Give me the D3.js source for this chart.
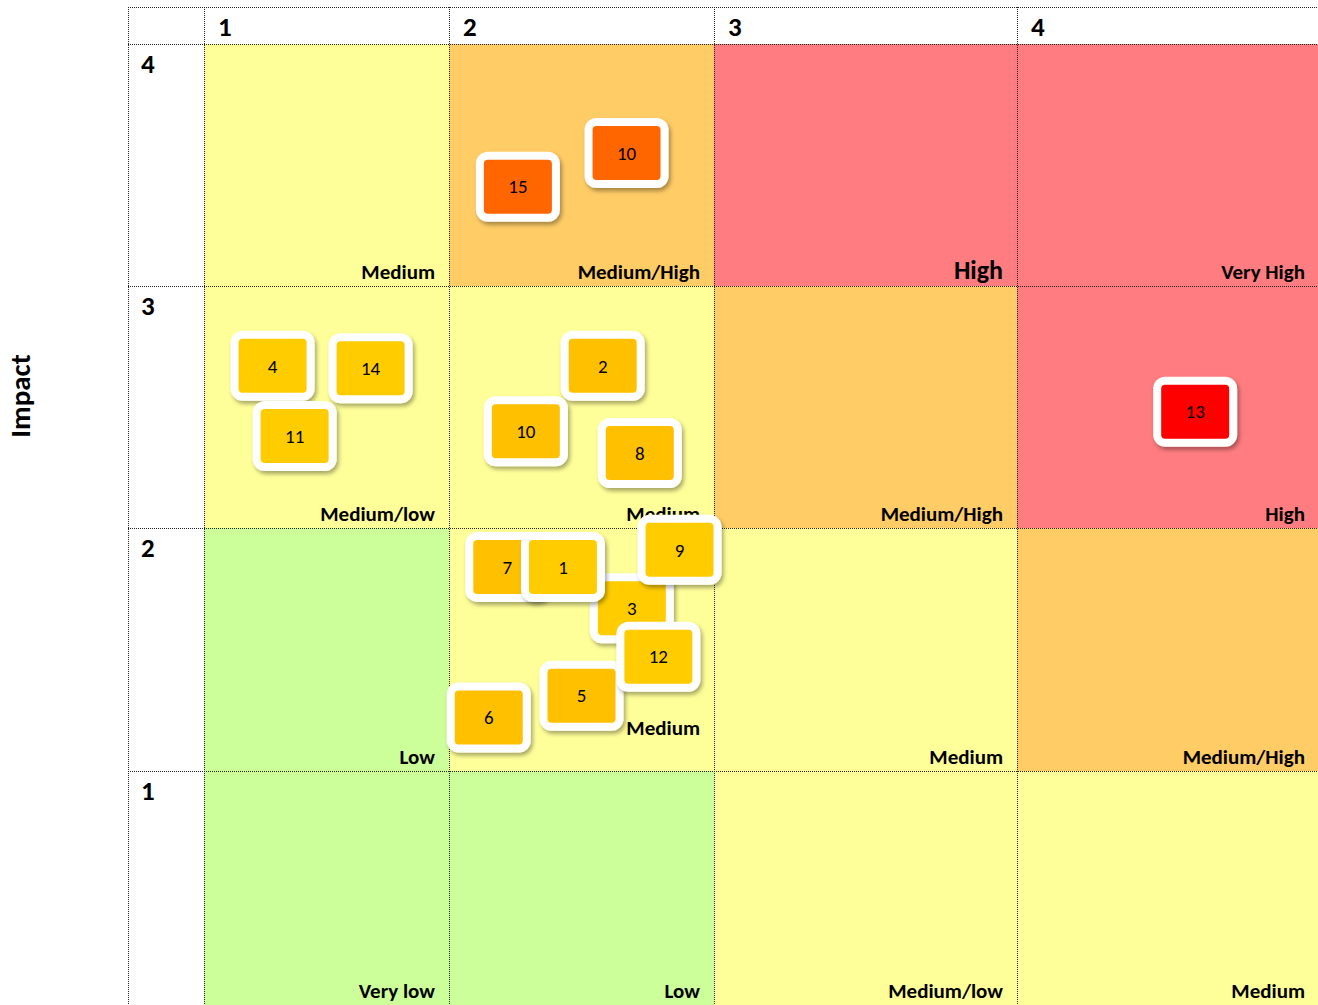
<!DOCTYPE html>
<html>
<head>
<meta charset="utf-8">
<script src="https://cdn.jsdelivr.net/npm/d3@7"></script>
<style>
    body { margin: 0; background: #fff; }
    svg { display: block; font-family: Carlito, Calibri, Lato, sans-serif; }
</style>
</head>
<body>
<div id="matrix"></div>
<script>
// likelihood across the top, impact down the side
const likelihoodLevels = [1, 2, 3, 4];
const impactLevels = [4, 3, 2, 1];

// rating shown in each cell, one array per impact row (top to bottom)
const ratingsImpact4 = ["Medium", "Medium/High", "High", "Very High"];
const ratingsImpact3 = ["Medium/low", "Medium", "Medium/High", "High"];
const ratingsImpact2 = ["Low", "Medium", "Medium", "Medium/High"];
const ratingsImpact1 = ["Very low", "Low", "Medium/low", "Medium"];

// risks, in drawing order
const riskIds        = ["15", "10", "4", "14", "11", "2", "10", "8", "13", "7", "3", "1", "9", "5", "12", "6"];
const riskLikelihood = [2.26, 2.67, 1.28, 1.68, 1.37, 2.58, 2.29, 2.72, 4.59, 2.22, 2.69, 2.43, 2.87, 2.50, 2.79, 2.15];
const riskImpact     = [4.41, 4.55, 3.67, 3.66, 3.38, 3.67, 3.40, 3.31, 3.48, 2.84, 2.67, 2.84, 2.91, 2.31, 2.47, 2.22];
const riskTone       = ["orange", "orange", "gold", "gold", "gold", "amber", "amber", "amber", "red", "amber", "gold", "gold", "gold", "amber", "gold", "amber"];

const ratingRows = [ratingsImpact4, ratingsImpact3, ratingsImpact2, ratingsImpact1];

const ratingColor = {
    "Very low": "#CCFF99",
    "Low": "#CCFF99",
    "Medium/low": "#FFFF99",
    "Medium": "#FFFF99",
    "Medium/High": "#FFCC66",
    "High": "#FF7C80",
    "Very High": "#FF7C80"
};
const toneColor = { orange: "#FF6600", red: "#FF0000", amber: "#FFC000", gold: "#FFCC00" };

const W = 1318, H = 1005;
const gridLeft = 128, gridTop = 7;

const svg = d3.select("#matrix").append("svg")
    .attr("width", W)
    .attr("height", H);

// piecewise scales: column / row widths differ a little
const x = d3.scaleLinear().domain([1, 2, 3, 4, 5]).range([204, 449, 714, 1017, 1319]);
const y = d3.scaleLinear().domain([5, 4, 3, 2, 1]).range([44, 286, 528, 771, 1005]);

const defs = svg.append("defs");
const shadow = defs.append("filter").attr("id", "shadow")
    .attr("x", "-20%").attr("y", "-20%").attr("width", "150%").attr("height", "160%");
shadow.append("feDropShadow")
    .attr("dx", 2).attr("dy", 3).attr("stdDeviation", 2.2)
    .attr("flood-color", "#000").attr("flood-opacity", 0.35);

// cells
const cells = [];
ratingRows.forEach((row, r) => {
    row.forEach((rating, c) => {
        cells.push({ impact: impactLevels[r], likelihood: likelihoodLevels[c], rating: rating });
    });
});

svg.selectAll(".cell")
    .data(cells)
    .enter().append("rect")
    .attr("class", "cell")
    .attr("x", d => x(d.likelihood))
    .attr("y", d => y(d.impact + 1))
    .attr("width", d => x(d.likelihood + 1) - x(d.likelihood))
    .attr("height", d => y(d.impact) - y(d.impact + 1))
    .attr("fill", d => ratingColor[d.rating]);

// dotted grid
const lineStyle = sel => sel.attr("stroke", "#222").attr("stroke-width", 1).attr("stroke-dasharray", "1,1");

const vLines = [gridLeft].concat(likelihoodLevels.map(l => x(l)));
svg.selectAll(".vline")
    .data(vLines)
    .enter().append("line")
    .attr("x1", d => Math.round(d) + 0.5).attr("x2", d => Math.round(d) + 0.5)
    .attr("y1", gridTop).attr("y2", H)
    .call(lineStyle);

const hLines = [gridTop].concat(impactLevels.map(l => y(l + 1)));
svg.selectAll(".hline")
    .data(hLines)
    .enter().append("line")
    .attr("x1", gridLeft).attr("x2", W)
    .attr("y1", d => Math.round(d) + 0.5).attr("y2", d => Math.round(d) + 0.5)
    .call(lineStyle);

// header numbers
svg.selectAll(".colLabel")
    .data(likelihoodLevels)
    .enter().append("text")
    .attr("x", d => x(d) + 14)
    .attr("y", 36)
    .style("font-size", "27px")
    .style("font-weight", "bold")
    .text(d => d);

svg.selectAll(".rowLabel")
    .data(impactLevels)
    .enter().append("text")
    .attr("x", gridLeft + 13)
    .attr("y", d => y(d + 1) + 29)
    .style("font-size", "27px")
    .style("font-weight", "bold")
    .text(d => d);

svg.append("text")
    .attr("transform", "translate(30,396) rotate(-90)")
    .style("text-anchor", "middle")
    .style("font-size", "29px")
    .style("font-weight", "bold")
    .text("Impact");

// rating labels, bottom right of each cell
svg.selectAll(".rating")
    .data(cells)
    .enter().append("text")
    .attr("class", "rating")
    .attr("x", d => x(d.likelihood + 1) - 14)
    .attr("y", d => {
        // the centre "Medium" sits a bit higher in the source
        const lift = (d.impact === 2 && d.likelihood === 2) ? 29 : 0;
        return y(d.impact) - 7 - lift;
    })
    .style("text-anchor", "end")
    .style("font-weight", "bold")
    .style("font-size", d => (d.impact === 4 && d.likelihood === 3) ? "26px" : "21px")
    .text(d => d.rating);

// risk boxes
const boxW = 84, boxH = 70, pad = 8;

const risks = riskIds.map((id, i) => ({
    id: id,
    likelihood: riskLikelihood[i],
    impact: riskImpact[i],
    tone: riskTone[i]
}));

const box = svg.selectAll(".risk")
    .data(risks)
    .enter().append("g")
    .attr("class", "risk")
    .attr("transform", d => `translate(${x(d.likelihood)}, ${y(d.impact)})`);

box.append("rect")
    .attr("x", -boxW / 2).attr("y", -boxH / 2)
    .attr("width", boxW).attr("height", boxH)
    .attr("rx", 12)
    .attr("fill", "#fff")
    .attr("filter", "url(#shadow)");

box.append("rect")
    .attr("x", -boxW / 2 + pad).attr("y", -boxH / 2 + pad)
    .attr("width", boxW - 2 * pad).attr("height", boxH - 2 * pad)
    .attr("rx", 4)
    .attr("fill", d => toneColor[d.tone]);

box.append("text")
    .attr("dy", ".35em")
    .style("text-anchor", "middle")
    .style("font-size", "19px")
    .style("fill", "#000")
    .text(d => d.id);
</script>
</body>
</html>
